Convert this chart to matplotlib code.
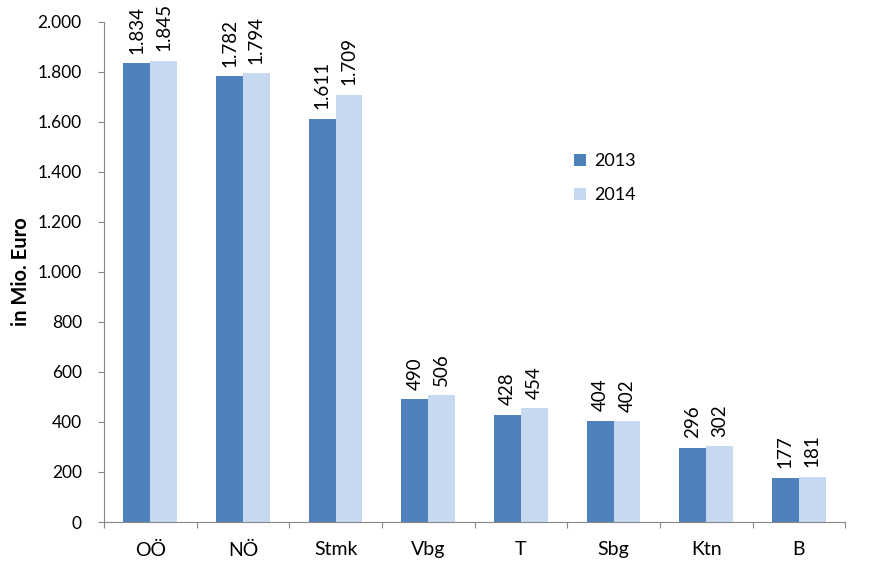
import matplotlib.pyplot as plt
import numpy as np
from matplotlib.ticker import FuncFormatter

plt.rcParams['font.family'] = ['Lato', 'DejaVu Sans']

## data
regions = ['OÖ', 'NÖ', 'Stmk', 'Vbg', 'T', 'Sbg', 'Ktn', 'B']
val2013 = [1834, 1782, 1611, 490, 428, 404, 296, 177]
val2014 = [1845, 1794, 1709, 506, 454, 402, 302, 181]
years = ['2013', '2014']
colors = ['#4f81bd', '#c6d9f0']

fig = plt.figure(figsize=(8.85, 5.61), dpi=100)
ax = fig.add_axes([0.1175, 0.0695, 0.8375, 0.8915])

x = np.arange(len(regions))
w = 0.29
b1 = ax.bar(x - w/2, val2013, w, color=colors[0], label=years[0])
b2 = ax.bar(x + w/2, val2014, w, color=colors[1], label=years[1])

def fmt(v):
  return f'{v:,}'.replace(',', '.')

for bars, vals in [(b1, val2013), (b2, val2014)]:
  for r, v in zip(bars, vals):
    ax.annotate(fmt(v), (r.get_x() + r.get_width()/2, v), xytext=(0, 7),
                textcoords='offset points', rotation=90, ha='center', va='bottom',
                fontsize=13.5)

ax.set_xlim(-0.5, len(regions) - 0.5)
ax.set_ylim(0, 2000)
ax.set_yticks(np.arange(0, 2001, 200))
ax.yaxis.set_major_formatter(FuncFormatter(lambda v, p: fmt(int(v))))
ax.set_xticks(np.arange(-0.5, len(regions)), minor=False)
ax.set_xticklabels([])
ax.set_xticks(x, minor=True)
ax.set_xticklabels(regions, minor=True)
ax.tick_params(axis='x', which='minor', length=0, pad=14, labelsize=14)
ax.tick_params(axis='x', which='major', length=4.5, color='#888888')
ax.tick_params(axis='y', length=4.5, color='#888888', labelsize=12.5, pad=11.5)

for s in ['top', 'right']:
  ax.spines[s].set_visible(False)
for s in ['left', 'bottom']:
  ax.spines[s].set_color('#888888')

ax.set_ylabel('in Mio. Euro', fontsize=14.5, fontweight='bold', labelpad=5)

ax.legend(loc='upper left', bbox_to_anchor=(0.612, 0.77), frameon=False,
          fontsize=13, handlelength=0.7, handleheight=0.7, labelspacing=1.0,
          handletextpad=0.4)

plt.savefig('out.png')
